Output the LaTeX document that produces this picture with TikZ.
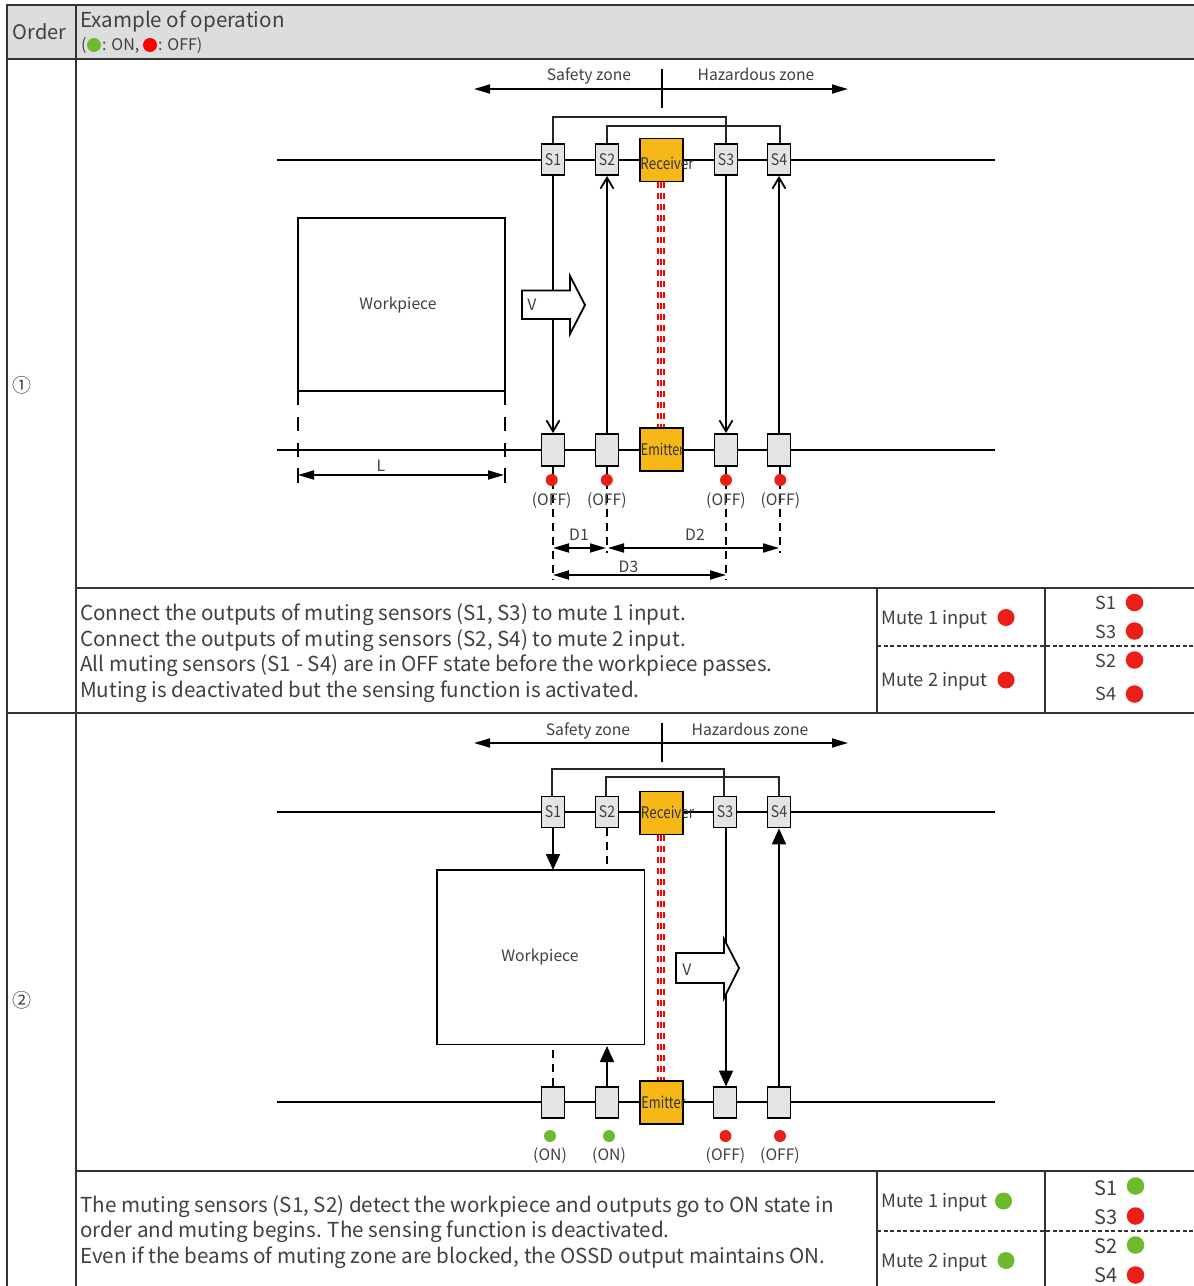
\documentclass[tikz,border=0pt]{standalone}
\usepackage{fontspec}
\usepackage{graphicx}
\setmainfont{Noto Sans CJK SC}
\usetikzlibrary{arrows.meta}
\definecolor{txt}{HTML}{404040}
\definecolor{hdr}{HTML}{DCDDDD}
\definecolor{box}{HTML}{E4E4E4}
\definecolor{amber}{HTML}{F5B817}
\definecolor{ongreen}{HTML}{6FBA2C}
\definecolor{offred}{HTML}{EA2018}
\newcommand{\squeezed}[2]{\scalebox{#1}[1]{#2}}
\newcommand{\slab}[1]{\raisebox{-2.4pt}{\scalebox{.88}[1]{#1}}}
\tikzset{
  x=1pt,y=-1pt,
  fs/.style={font=\fontsize{#1}{#1}\selectfont},
  lab/.style={inner sep=0pt,text=txt,fs=#1,anchor=base,yshift={-0.36*#1*1pt}},
  lab/.default=15.7,
  leftlab/.style={inner sep=0pt,text=txt,fs=#1,anchor=base west,yshift={-0.36*#1*1pt}},
  grid/.style={draw=black!80,line width=1.3pt},
  griddash/.style={draw=black!80,line width=1.2pt,dash pattern=on 4pt off 2.5pt},
  main/.style={draw=black,line width=1.8pt},
  wire/.style={draw=black!85,line width=1.4pt},
  sensor/.style={draw=black,fill=box,line width=1.8pt,minimum width=23pt,minimum height=31pt,inner sep=0pt,text=txt,fs=16,text height=8.5pt,text depth=1.5pt},
  unit/.style={draw=black,fill=amber,line width=1.8pt,minimum width=43pt,minimum height=43pt,inner sep=0pt},
  unitlab/.style={inner sep=0pt,text=black!80,fs=16,anchor=base,yshift=-5.8pt},
  work/.style={draw=black,fill=none,line width=1.8pt,inner sep=0pt,outer sep=0pt},
  dashline/.style={draw=black,line width=1.6pt,dash pattern=on 8pt off 6pt},
  longdash/.style={draw=black,line width=1.8pt,dash pattern=on 14pt off 12pt},
  beam/.style={draw=red,line width=2pt,dash pattern=on 6pt off 5pt},
  dotoff/.style={circle,fill=offred,minimum size=#1,inner sep=0pt},
  dotoff/.default=12pt,
  doton/.style={circle,fill=ongreen,minimum size=#1,inner sep=0pt},
  doton/.default=12pt,
  bothfill/.style={main,{Triangle[length=16pt,width=9pt]}-{Triangle[length=16pt,width=9pt]}},
  filltip/.style={main,-{Triangle[length=16pt,width=14pt]}},
  opentip/.style={main,-{Straight Barb[length=11pt,width=13pt]}},
  vshape/.style={draw=black,fill=white,line width=1.8pt,line join=miter},
}
\begin{document}
\begin{tikzpicture}
\useasboundingbox (0,0) rectangle (1194,1286);
\fill[white] (0,0) rectangle (1194,1286);
% header
\fill[hdr] (7,5) rectangle (1194,59);
\draw[grid] (1194,5) -- (7,5) -- (7,1286);
\draw[grid] (7,59) -- (1194,59);
\draw[grid] (76,5) -- (76,1286);
\draw[grid] (7,713) -- (1194,713);
\draw[grid] (76,588) -- (1194,588);
\draw[grid] (76,1171) -- (1194,1171);
\draw[grid] (877,588) -- (877,713);
\draw[grid] (1045,588) -- (1045,713);
\draw[grid] (877,1171) -- (877,1286);
\draw[grid] (1045,1171) -- (1045,1286);
\draw[griddash] (877,646) -- (1194,646);
\draw[griddash] (877,1231) -- (1194,1231);
\node[lab=20] (order) at (39.5,32) {Order};
\node[leftlab=20.6] (ex) at (80,20) {Example of operation};
\node[leftlab=16] (p1) at (81,45) {(};
\node[doton=14pt] (hon) at (94,45) {};
\node[leftlab=16] (hont) at (102,45) {: ON,};
\node[dotoff=14pt,fill=red] (hoff) at (150,45) {};
\node[leftlab=16] (hofft) at (158,45) {: OFF)};
\node[lab=19] (n1) at (22,386) {①};
\node[lab=19] (n2) at (22,1001) {②};

% ---------- panel 1 ----------
\coordinate (zl1) at (474,89); \coordinate (zr1) at (848,89);
\coordinate (zt1) at (662,69); \coordinate (zb1) at (662,108);
\draw[bothfill] (zl1) -- (zr1);
\draw[main] (zt1) -- (zb1);
\node[lab] (sz1) at (589,75) {Safety zone};
\node[lab] (hz1) at (756,75) {Hazardous zone};
\coordinate (la1) at (277,160); \coordinate (ra1) at (995,160);
\coordinate (lb1) at (277,450); \coordinate (rb1) at (995,450);
\draw[main] (la1) -- (ra1);
\draw[main] (lb1) -- (rb1);
\foreach \b in {658,661,664} \draw[beam] (\b,182) -- (\b,428);
\coordinate (w11) at (726,117); \coordinate (w12) at (780,126);
\node[sensor] (s1a) at (553,159.5) {\slab{S1}};
\node[sensor] (s2a) at (607,159.5) {\slab{S2}};
\node[sensor] (s3a) at (726,159.5) {\slab{S3}};
\node[sensor] (s4a) at (779,159.5) {\slab{S4}};
\node[sensor,minimum height=32pt] (s1b) at (553,450) {};
\node[sensor,minimum height=32pt] (s2b) at (607,450) {};
\node[sensor,minimum height=32pt] (s3b) at (726,450) {};
\node[sensor,minimum height=32pt] (s4b) at (779,450) {};
\draw[wire] (s1a.north) |- (w11) -- (s3a.north);
\draw[wire] (s2a.north) |- (w12) -- (w12 |- s4a.north);
\node[unit] (rc1) at (661.5,160) {};
\node[unit] (em1) at (661.5,449.7) {};
\node[unitlab] (rct1) at (667,163.5) {\squeezed{.84}{Receiver}};
\node[unitlab] (emt1) at (662.5,450) {\squeezed{.78}{Emitter}};
\draw[opentip] (s1a) -- (s1b);
\draw[opentip] (s2b) -- (s2a);
\draw[opentip] (s3a) -- (s3b);
\draw[opentip] (s4b) -- (s4a);
% workpiece
\node[work,anchor=north west,minimum width=207pt,minimum height=173pt] (wp1) at (298,218) {};
\node[lab] (wpt1) at (398,304) {Workpiece};
\coordinate (t1a) at (298,468); \coordinate (t1b) at (505,468);
\coordinate (t1c) at (298,483); \coordinate (t1d) at (505,483);
\draw[longdash] (wp1.south west) -- (t1a);
\draw[longdash] (wp1.south east) -- (t1b);
\draw[main,line width=1.4pt] (t1a) -- (t1c);
\draw[main,line width=1.4pt] (t1b) -- (t1d);
\coordinate (l1a) at (298,475); \coordinate (l1b) at (504,475);
\draw[bothfill] (l1a) -- (l1b);
\node[lab] (lt) at (381,465.5) {L};
% V arrow
\draw[vshape] (522,290.5) -- (570,290.5) -- (570,276) -- (585,305) -- (570,334) -- (570,319) -- (522,319) -- cycle;
\node[lab] (v1) at (532,305) {V};
% dims
\coordinate (d1a) at (553,580); \coordinate (d2a) at (607,553);
\coordinate (d3a) at (726,580); \coordinate (d4a) at (780,553);
\draw[dashline] (s1b.south) -- (d1a);
\draw[dashline] (s2b.south) -- (d2a);
\draw[dashline] (s3b.south) -- (d3a);
\draw[dashline] (s4b.south -| d4a) -- (d4a);
\node[dotoff] (o1a) at (551.7,480) {};
\node[dotoff] (o2a) at (606.8,480) {};
\node[dotoff] (o3a) at (726,480) {};
\node[dotoff] (o4a) at (780.3,480) {};
\node[lab] (of1) at (551.7,500) {(OFF)};
\node[lab] (of2) at (606.8,500) {(OFF)};
\node[lab] (of3) at (726,500) {(OFF)};
\node[lab] (of4) at (780.3,500) {(OFF)};
\coordinate (a1) at (553,548); \coordinate (a2) at (606,548);
\coordinate (a3) at (608,548); \coordinate (a4) at (779,548);
\coordinate (a5) at (553,575); \coordinate (a6) at (726,575);
\draw[bothfill] (a1) -- (a2);
\draw[bothfill] (a3) -- (a4);
\draw[bothfill] (a5) -- (a6);
\node[lab] (d1) at (579,535) {D1};
\node[lab] (d2) at (695,535) {D2};
\node[lab] (d3) at (628.5,567) {D3};
% text 1
\node[leftlab=20.6] (t11) at (80,613) {Connect the outputs of muting sensors (S1, S3) to mute 1 input.};
\node[leftlab=20.6] (t12) at (80,639) {Connect the outputs of muting sensors (S2, S4) to mute 2 input.};
\node[leftlab=20.6] (t13) at (80,664.5) {All muting sensors (S1 - S4) are in OFF state before the workpiece passes.};
\node[leftlab=20.6] (t14) at (80,690) {Muting is deactivated but the sensing function is activated.};
\node[leftlab=18.3] (m11) at (881,618) {Mute 1 input};
\node[leftlab=18.3] (m12) at (881,680) {Mute 2 input};
\node[dotoff=17pt] (md11) at (1006,617.5) {};
\node[dotoff=17pt] (md12) at (1006,680) {};
\node[lab=18] (x1) at (1106,603) {S1};
\node[lab=18] (x3) at (1106,632.5) {S3};
\node[lab=18] (x2) at (1106,661.5) {S2};
\node[lab=18] (x4) at (1106,694.5) {S4};
\node[dotoff=17.5pt] (xd1) at (1134.5,602.5) {};
\node[dotoff=17.5pt] (xd3) at (1134.5,631) {};
\node[dotoff=17.5pt] (xd2) at (1134.5,660) {};
\node[dotoff=17.5pt] (xd4) at (1134.5,694) {};

% ---------- panel 2 ----------
\coordinate (zl2) at (474,743); \coordinate (zr2) at (848,743);
\coordinate (zt2) at (662,723); \coordinate (zb2) at (662,762);
\draw[bothfill] (zl2) -- (zr2);
\draw[main] (zt2) -- (zb2);
\node[lab] (sz2) at (588,729.5) {Safety zone};
\node[lab] (hz2) at (750,729.5) {Hazardous zone};
\coordinate (la2) at (277,812); \coordinate (ra2) at (995,812);
\coordinate (lb2) at (277,1102); \coordinate (rb2) at (995,1102);
\draw[main] (la2) -- (ra2);
\draw[main] (lb2) -- (rb2);
\foreach \b in {658,661,664} \draw[beam] (\b,835) -- (\b,1081);
\coordinate (w20) at (552,769); \coordinate (w21) at (724,769);
\coordinate (w23) at (606,777); \coordinate (w22) at (779,777);
\node[sensor] (s1c) at (553,812) {\slab{S1}};
\node[sensor] (s2c) at (607,812) {\slab{S2}};
\node[sensor] (s3c) at (725,812) {\slab{S3}};
\node[sensor] (s4c) at (779,812) {\slab{S4}};
\node[sensor] (s1d) at (553,1102.5) {};
\node[sensor] (s2d) at (607,1102.5) {};
\node[sensor] (s3d) at (725,1102.5) {};
\node[sensor] (s4d) at (779,1102.5) {};
\draw[wire] (w20 |- s1c.north) -- (w20) -- (w21) -- (w21 |- s3c.north);
\draw[wire] (w23 |- s2c.north) -- (w23) -- (w22) -- (w22 |- s4c.north);
\node[unit] (rc2) at (661.5,813) {};
\node[unit] (em2) at (661.5,1102.5) {};
\node[unitlab] (rct2) at (667.5,813) {\squeezed{.84}{Receiver}};
\node[unitlab] (emt2) at (663.5,1103) {\squeezed{.8}{Emitter}};
\node[work,anchor=north west,minimum width=207.5pt,minimum height=174.5pt] (wp2) at (437,870) {};
\node[lab] (wpt2) at (540,956) {Workpiece};
\draw[filltip] (s1c.south) -- (s1c.south |- wp2.north);
\draw[dashline] (s2c.south) -- (s2c.south |- wp2.north);
\draw[dashline] (s1d.north) -- (s1d.north |- wp2.south);
\coordinate (up2) at (607,1046);
\draw[filltip] (s2d.north) -- (up2);
\coordinate (s3top) at (726,827.5); \coordinate (s3mid) at (726,953);
\coordinate (s3low) at (726,983); \coordinate (s3end) at (726,1086.5);
\draw[main] (s3top) -- (s3mid);
\draw[filltip] (s3low) -- (s3end);
\draw[filltip] (s4d.north) -- (s4c.south);
\draw[vshape] (676,953) -- (724,953) -- (724,939) -- (739,968) -- (724,998) -- (724,983) -- (676,983) -- cycle;
\node[lab] (v2) at (687,969.5) {V};
\node[doton] (o1b) at (550,1136) {};
\node[doton] (o2b) at (609,1136) {};
\node[dotoff] (o3b) at (725.5,1136) {};
\node[dotoff] (o4b) at (780,1136) {};
\node[lab] (on1) at (550,1155) {(ON)};
\node[lab] (on2) at (609,1155) {(ON)};
\node[lab] (of5) at (725.5,1155) {(OFF)};
\node[lab] (of6) at (780,1155) {(OFF)};
% text 2
\node[leftlab=20.6] (t21) at (80,1205) {The muting sensors (S1, S2) detect the workpiece and outputs go to ON state in};
\node[leftlab=20.6] (t22) at (80,1230.5) {order and muting begins. The sensing function is deactivated.};
\node[leftlab=20.6] (t23) at (80,1256) {Even if the beams of muting zone are blocked, the OSSD output maintains ON.};
\node[leftlab=18.3] (m21) at (881,1201) {Mute 1 input};
\node[leftlab=18.3] (m22) at (881,1261) {Mute 2 input};
\node[doton=17pt] (md21) at (1003.5,1201) {};
\node[doton=17pt] (md22) at (1006,1260.5) {};
\node[lab=20] (y1) at (1106,1188) {S1};
\node[lab=20] (y3) at (1106,1217.5) {S3};
\node[lab=20] (y2) at (1106,1246.5) {S2};
\node[lab=20] (y4) at (1106,1275.5) {S4};
\node[doton=17.5pt] (yd1) at (1135.5,1186) {};
\node[dotoff=17.5pt] (yd3) at (1135.5,1216) {};
\node[doton=17.5pt] (yd2) at (1135.5,1245) {};
\node[dotoff=17.5pt] (yd4) at (1135.5,1275) {};
\end{tikzpicture}
\end{document}
